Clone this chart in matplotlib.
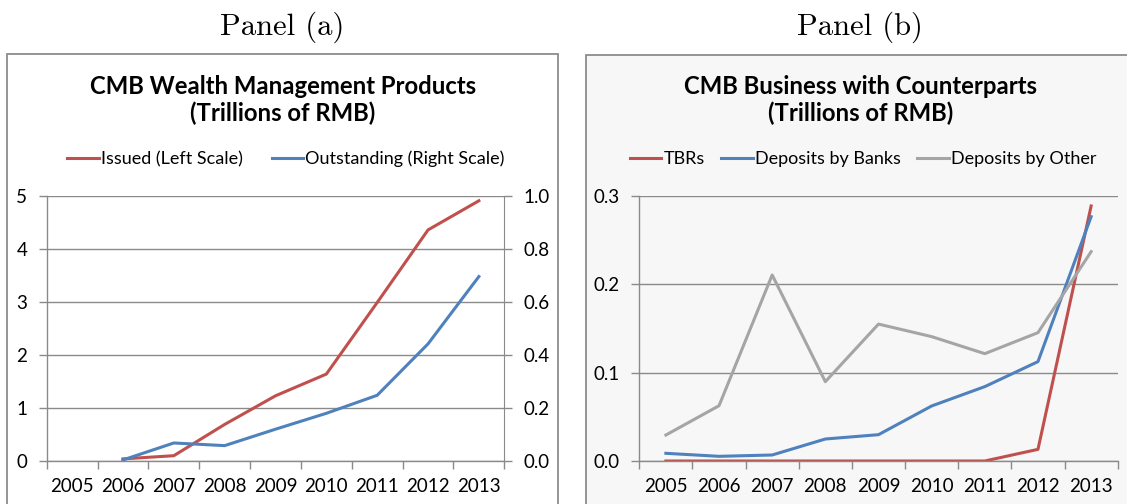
import numpy as np
import matplotlib
matplotlib.use("Agg")
import matplotlib.pyplot as plt
from matplotlib.patches import Rectangle
from matplotlib.lines import Line2D
from matplotlib.ticker import FormatStrFormatter, FixedLocator

years = ["2005", "2006", "2007", "2008", "2009", "2010", "2011", "2012", "2013"]

# panel (a): wealth management products, trillions of RMB
issued = [np.nan, 0.04, 0.10, 0.69, 1.23, 1.64, 2.99, 4.36, 4.91]          # left scale
outstanding = [np.nan, 0.004, 0.068, 0.058, 0.12, 0.18, 0.248, 0.442, 0.696]  # right scale

# panel (b): business with counterparts, trillions of RMB
tbrs = [0.0, 0.0, 0.0, 0.0, 0.0, 0.0, 0.0, 0.0132, 0.2887]
dep_banks = [0.0087, 0.0053, 0.0068, 0.0249, 0.0298, 0.0623, 0.0842, 0.1125, 0.2766]
dep_other = [0.0294, 0.0626, 0.2106, 0.0898, 0.155, 0.1408, 0.1215, 0.1453, 0.237]

RED, BLUE, GREY = "#C0504D", "#4F81BD", "#A5A5A5"
AXC = "#8A8A8A"
FONT = "Lato"
TICK_FS = 13.5
LEG_FS = 13
TITLE_FS = 17.2

W, H = 1127, 504
fig = plt.figure(figsize=(W / 100, H / 100), dpi=100)


def box(x0, y0, x1, y1):
    # pixel box (top-left origin) -> figure fraction rect
    return [x0 / W, 1 - y1 / H, (x1 - x0) / W, (y1 - y0) / H]


# panel frames
for (x0, y0, x1, face) in [(7.3, 54, 558.3, "white"), (585.7, 54.5, 1140, "#F7F7F7")]:
    fig.add_artist(Rectangle((x0 / W, -0.02), (x1 - x0) / W, 1 - y0 / H + 0.02,
                             transform=fig.transFigure, facecolor=face,
                             edgecolor="#8C8C8C", lw=1.3, zorder=0))

fig.text(282.5 / W, 1 - 27 / H, "Panel (a)", family="cmr10", fontsize=22,
         ha="center", va="center")
fig.text(860 / W, 1 - 27 / H, "Panel (b)", family="cmr10", fontsize=22,
         ha="center", va="center")


def style_axes(ax, ylim, yticks, fmt):
    x = np.arange(len(years))
    ax.set_xlim(-0.5, len(years) - 0.5)
    ax.set_ylim(*ylim)
    ax.set_facecolor("none")
    ax.xaxis.set_major_locator(FixedLocator(np.arange(-0.5, len(years), 1.0)))
    ax.xaxis.set_minor_locator(FixedLocator(x))
    ax.set_xticklabels([], minor=False)
    ax.set_xticklabels(years, minor=True, family=FONT, fontsize=TICK_FS)
    ax.tick_params(axis="x", which="major", length=6, width=1, color=AXC, direction="out")
    ax.tick_params(axis="x", which="minor", length=0, pad=12.5)
    ax.set_yticks(yticks)
    ax.yaxis.set_major_formatter(FormatStrFormatter(fmt))
    ax.tick_params(axis="y", length=6, width=1, color=AXC, pad=8, labelsize=TICK_FS)
    for t in ax.get_yticklabels():
        t.set_family(FONT)
    ax.grid(axis="y", color=AXC, lw=1)
    ax.set_axisbelow(True)
    for s in ["top", "right"]:
        ax.spines[s].set_visible(False)
    for s in ["left", "bottom"]:
        ax.spines[s].set_color(AXC)
        ax.spines[s].set_linewidth(1)
    return x


# ---------- panel (a)
axa = fig.add_axes(box(46.7, 196, 504.3, 461))
x = style_axes(axa, (0, 5), [0, 1, 2, 3, 4, 5], "%d")
axa.plot(x, issued, color=RED, lw=2.2, solid_joinstyle="round")
axa2 = axa.twinx()
axa2.set_ylim(0, 1)
axa2.set_yticks([0, 0.2, 0.4, 0.6, 0.8, 1.0])
axa2.yaxis.set_major_formatter(FormatStrFormatter("%.1f"))
axa2.tick_params(axis="y", length=6, width=1, color=AXC, pad=8, labelsize=TICK_FS)
for t in axa2.get_yticklabels():
    t.set_family(FONT)
for s in ["top", "left", "bottom"]:
    axa2.spines[s].set_visible(False)
axa2.spines["right"].set_color(AXC)
axa2.plot(x, outstanding, color=BLUE, lw=2.2, solid_joinstyle="round")

fig.text(283 / W, 1 - 100 / H, "CMB Wealth Management Products\n(Trillions of RMB)",
         family=FONT, weight="bold", fontsize=TITLE_FS, ha="center", va="center",
         linespacing=1.2)
hdl_a = [Line2D([], [], color=RED, lw=2.2), Line2D([], [], color=BLUE, lw=2.2)]
fig.legend(hdl_a, ["Issued (Left Scale)", "Outstanding (Right Scale)"],
           loc="center", bbox_to_anchor=(286 / W, 1 - 159 / H), ncol=2, frameon=False,
           prop={"family": FONT, "size": LEG_FS}, handlelength=1.75, handletextpad=0.12,
           columnspacing=1.6)

# ---------- panel (b)
axb = fig.add_axes(box(639.3, 196, 1117.7, 461))
x = style_axes(axb, (0, 0.3), [0, 0.1, 0.2, 0.3], "%.1f")
axb.plot(x, tbrs, color=RED, lw=2.2, solid_joinstyle="round")
axb.plot(x, dep_banks, color=BLUE, lw=2.2, solid_joinstyle="round")
axb.plot(x, dep_other, color=GREY, lw=2.2, solid_joinstyle="round")

fig.text(861 / W, 1 - 100 / H, "CMB Business with Counterparts\n(Trillions of RMB)",
         family=FONT, weight="bold", fontsize=TITLE_FS, ha="center", va="center",
         linespacing=1.2)
hdl_b = [Line2D([], [], color=c, lw=2.2) for c in (RED, BLUE, GREY)]
fig.legend(hdl_b, ["TBRs", "Deposits by Banks", "Deposits by Other"],
           loc="center", bbox_to_anchor=(863 / W, 1 - 159 / H), ncol=3, frameon=False,
           prop={"family": FONT, "size": LEG_FS}, handlelength=1.75, handletextpad=0.12,
           columnspacing=0.9)

fig.savefig("out.png", dpi=100)
